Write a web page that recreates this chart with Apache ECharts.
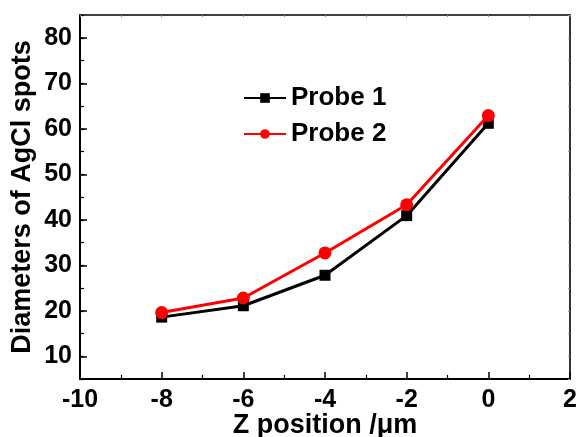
<!DOCTYPE html>
<html><head><meta charset="utf-8">
<script src="https://cdn.jsdelivr.net/npm/echarts@6/dist/echarts.min.js"></script>
<style>html,body{margin:0;padding:0;background:#fff;overflow:hidden}#c{width:579px;height:437px}</style>
</head><body><div id="c"></div>
<script>
const zPositions = [-8, -6, -4, -2, 0];
const probe1 = [18.6, 21.1, 27.8, 40.9, 61.2];
const probe2 = [19.6, 22.8, 32.7, 43.3, 62.9];
const yMajor = [10, 20, 30, 40, 50, 60, 70, 80];
const seriesNames = ['Probe 1', 'Probe 2'];

const FONT = 'Liberation Sans, Arial, sans-serif';
const chart = echarts.init(document.getElementById('c'), null, {renderer: 'canvas'});
const pair = a => zPositions.map((x, i) => [x, a[i]]);

const baseLbl = {fontFamily: FONT, fontWeight: 'bold', fontSize: 25, color: '#000'};

chart.setOption({
  animation: false,
  backgroundColor: '#fff',
  grid: {left: 80, right: 9, top: 15, bottom: 58, containLabel: false, outerBoundsMode: 'none',
         show: true, borderColor: '#333', borderWidth: 1.5, backgroundColor: 'transparent'},
  legend: {
    orient: 'vertical', left: 238, top: 80, itemWidth: 42, itemHeight: 12, itemGap: 10,
    textStyle: {fontFamily: FONT, fontWeight: 'bold', fontSize: 26, color: '#000'},
    data: seriesNames
  },
  xAxis: [
    {type: 'value', min: -10, max: 2, interval: 2, position: 'bottom',
     axisLine: {onZero: false, lineStyle: {color: '#000', width: 2}},
     axisTick: {inside: true, length: 7, lineStyle: {color: '#000', width: 1.5}},
     minorTick: {show: true, splitNumber: 2, length: 4, lineStyle: {color: '#000', width: 1.2}},
     splitLine: {show: false},
     axisLabel: Object.assign({margin: 9}, baseLbl),
     name: 'Z position /μm', nameLocation: 'middle', nameGap: 33, nameMoveOverlap: false,
     nameTextStyle: {fontFamily: FONT, fontWeight: 'bold', fontSize: 27, color: '#000'}},
    {type: 'value', min: -10, max: 2, interval: 1, position: 'top',
     axisLine: {onZero: false, lineStyle: {color: '#333', width: 1.5}},
     axisTick: {inside: true, length: 2, lineStyle: {color: '#888', width: 1}},
     axisLabel: {show: false}, splitLine: {show: false}}
  ],
  yAxis: [
    {type: 'value', min: 5, max: 85, position: 'left',
     axisLine: {onZero: false, lineStyle: {color: '#000', width: 2}},
     axisTick: {inside: true, length: 7, customValues: yMajor, lineStyle: {color: '#000', width: 1.5}},
     axisLabel: Object.assign({margin: 8, customValues: yMajor}, baseLbl),
     splitLine: {show: false},
     name: 'Diameters of AgCl spots', nameLocation: 'middle', nameGap: 44, nameRotate: 90, nameMoveOverlap: false,
     nameTextStyle: {fontFamily: FONT, fontWeight: 'bold', fontSize: 27, color: '#000'}},
    {type: 'value', min: 5, max: 85, interval: 5, position: 'left',
     axisLine: {show: false, onZero: false},
     axisTick: {inside: true, length: 4, lineStyle: {color: '#000', width: 1.2}},
     axisLabel: {show: false}, splitLine: {show: false}},
    {type: 'value', min: 5, max: 85, interval: 5, position: 'right',
     axisLine: {show: true, onZero: false, lineStyle: {color: '#333', width: 2}},
     axisTick: {inside: true, length: 2, lineStyle: {color: '#888', width: 1}},
     axisLabel: {show: false}, splitLine: {show: false}}
  ],
  series: [
    {name: seriesNames[0], type: 'line', xAxisIndex: 0, yAxisIndex: 0, data: pair(probe1),
     symbol: 'rect', symbolSize: 11, color: '#000',
     lineStyle: {color: '#000', width: 3}, itemStyle: {color: '#000'}, z: 2},
    {name: seriesNames[1], type: 'line', xAxisIndex: 0, yAxisIndex: 0, data: pair(probe2),
     symbol: 'circle', symbolSize: 13, color: '#ff0000',
     lineStyle: {color: '#ff0000', width: 3}, itemStyle: {color: '#ff0000'}, z: 3}
  ]
});
</script></body></html>
